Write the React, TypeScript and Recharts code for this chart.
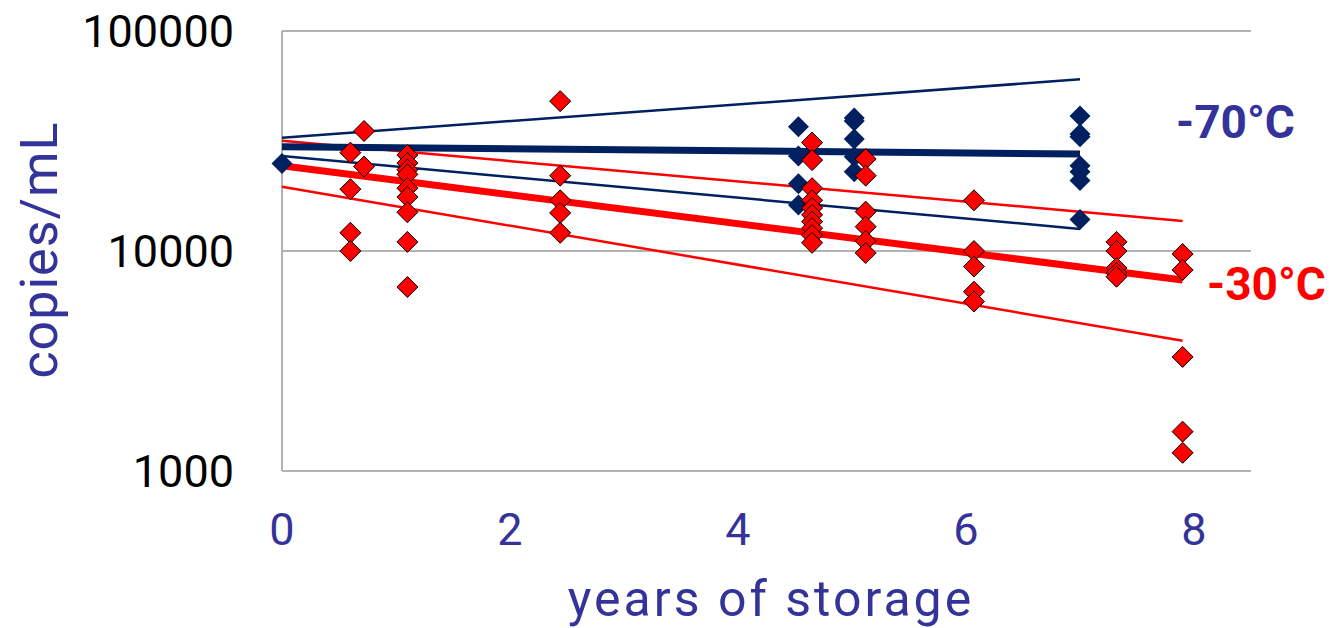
import React from "react";
import {
  ScatterChart,
  Scatter,
  XAxis,
  YAxis,
  CartesianGrid,
} from "recharts";

// -70°C samples
const blueYears = [
  0,
  4.53, 4.53, 4.53, 4.53,
  5.02, 5.02, 5.02, 5.02, 5.02,
  7.0, 7.0, 7.0, 7.0, 7.0, 7.0, 7.0,
];
const blueCopies = [
  25000,
  36700, 27000, 20200, 16200,
  40200, 39000, 32300, 26800, 22900,
  41100, 34000, 33100, 24400, 22900, 20900, 13900,
];

// -30°C samples
const redYears = [
  0.6, 0.6, 0.6, 0.6,
  0.72, 0.72,
  1.1, 1.1, 1.1, 1.1, 1.1, 1.1, 1.1, 1.1, 1.1,
  2.44, 2.44, 2.44, 2.44, 2.44,
  4.65, 4.65, 4.65, 4.65, 4.65, 4.65, 4.65, 4.65, 4.65, 4.65,
  5.12, 5.12, 5.12, 5.12, 5.12, 5.12,
  6.07, 6.07, 6.07, 6.07, 6.07,
  7.32, 7.32, 7.32, 7.32, 7.32,
  7.9, 7.9, 7.9, 7.9, 7.9,
];
const redCopies = [
  28000, 19100, 12100, 10000,
  35100, 24200,
  27300, 25100, 23400, 22300, 19300, 17600, 15000, 11000, 6860,
  48000, 22000, 17000, 14900, 12100,
  31100, 25900, 19300, 17000, 15700, 14600, 13600, 12700, 11800, 10900,
  26200, 22000, 15100, 12900, 11100, 9800,
  17000, 10000, 8500, 6530, 5890,
  11000, 10000, 8370, 7940, 7640,
  9690, 8200, 3300, 1510, 1210,
];

// regression fit + confidence limits (end points)
const blueFitYears = [0, 7];
const blueFit = [29800, 27600];
const blueUpper = [32700, 60300];
const blueLower = [27000, 12600];

const redFitYears = [0, 7.9];
const redFit = [24400, 7380];
const redUpper = [31700, 13700];
const redLower = [19600, 3910];

const xTicks = [0, 2, 4, 6, 8];
const yTicks = [1000, 10000, 100000];

const BLUE = "#002060";
const RED = "#FF0000";
const TEXT_BLUE = "#333399";
const FONT = "Roboto, sans-serif";

const zip = (xs: number[], ys: number[]) => xs.map((x, i) => ({ x, y: ys[i] }));

const Diamond = (props: any) => {
  const { cx, cy, fill, stroke } = props;
  if (cx == null || cy == null) return <g />;
  const r = 10.5;
  return (
    <polygon
      points={`${cx},${cy - r} ${cx + r},${cy} ${cx},${cy + r} ${cx - r},${cy}`}
      fill={fill}
      stroke={stroke}
      strokeWidth={1}
    />
  );
};

const NoDot = () => <g />;

const XTick = (props: any) => {
  const { x, y, payload } = props;
  return (
    <text x={x} y={y + 66} textAnchor="middle" fill={TEXT_BLUE} fontSize={45} fontFamily={FONT}>
      {payload.value}
    </text>
  );
};

const YTick = (props: any) => {
  const { x, y, payload } = props;
  return (
    <text x={x - 40} y={y + 16} textAnchor="end" fill="#000" fontSize={45} fontFamily={FONT}>
      {payload.value}
    </text>
  );
};

export default function App() {
  const bluePts = zip(blueYears, blueCopies);
  const redPts = zip(redYears, redCopies);

  const fits = [
    { data: zip(blueFitYears, blueUpper), color: BLUE, w: 2.5 },
    { data: zip(blueFitYears, blueLower), color: BLUE, w: 2.5 },
    { data: zip(redFitYears, redUpper), color: RED, w: 2.5 },
    { data: zip(redFitYears, redLower), color: RED, w: 2.5 },
    { data: zip(blueFitYears, blueFit), color: BLUE, w: 7 },
    { data: zip(redFitYears, redFit), color: RED, w: 7 },
  ];

  return (
    <div
      style={{
        position: "fixed",
        left: 0,
        top: 0,
        width: 1332,
        height: 628,
        overflow: "hidden",
        background: "#fff",
      }}
    >
      <ScatterChart
        width={1332}
        height={628}
        margin={{ top: 31, right: 81, bottom: 97, left: 0 }}
      >
        <CartesianGrid horizontal vertical={false} stroke="#b3b3b3" strokeWidth={2} />
        <XAxis
          type="number"
          dataKey="x"
          domain={[0, 8.5]}
          ticks={xTicks}
          axisLine={false}
          tickLine={false}
          height={60}
          tick={<XTick />}
        />
        <YAxis
          type="number"
          dataKey="y"
          scale="log"
          domain={[1000, 100000]}
          ticks={yTicks}
          allowDataOverflow
          width={282}
          axisLine={{ stroke: "#b3b3b3", strokeWidth: 2 }}
          tickLine={false}
          tick={<YTick />}
        />
        {fits.map((f, i) => (
          <Scatter
            key={`fit-${i}`}
            data={f.data}
            line={{ stroke: f.color, strokeWidth: f.w }}
            lineType="joint"
            shape={NoDot}
            isAnimationActive={false}
          />
        ))}
        <Scatter
          data={bluePts}
          fill={BLUE}
          stroke="none"
          shape={Diamond}
          isAnimationActive={false}
        />
        <Scatter
          data={redPts}
          fill={RED}
          stroke="#000"
          shape={Diamond}
          isAnimationActive={false}
        />
      </ScatterChart>
      <svg
        width={1332}
        height={628}
        style={{ position: "absolute", left: 0, top: 0, pointerEvents: "none" }}
        fontFamily={FONT}
      >
        <text
          transform="translate(57 250) rotate(-90)"
          textAnchor="middle"
          fill={TEXT_BLUE}
          fontSize={52}
          letterSpacing={1}
        >
          copies/mL
        </text>
        <text x={771} y={616} textAnchor="middle" fill={TEXT_BLUE} fontSize={50} letterSpacing={3}>
          years of storage
        </text>
        <text x={1176} y={138} fill={TEXT_BLUE} fontSize={46} fontWeight={700}>
          -70°C
        </text>
        <text x={1207} y={300} fill={RED} fontSize={46} fontWeight={700}>
          -30°C
        </text>
      </svg>
    </div>
  );
}
